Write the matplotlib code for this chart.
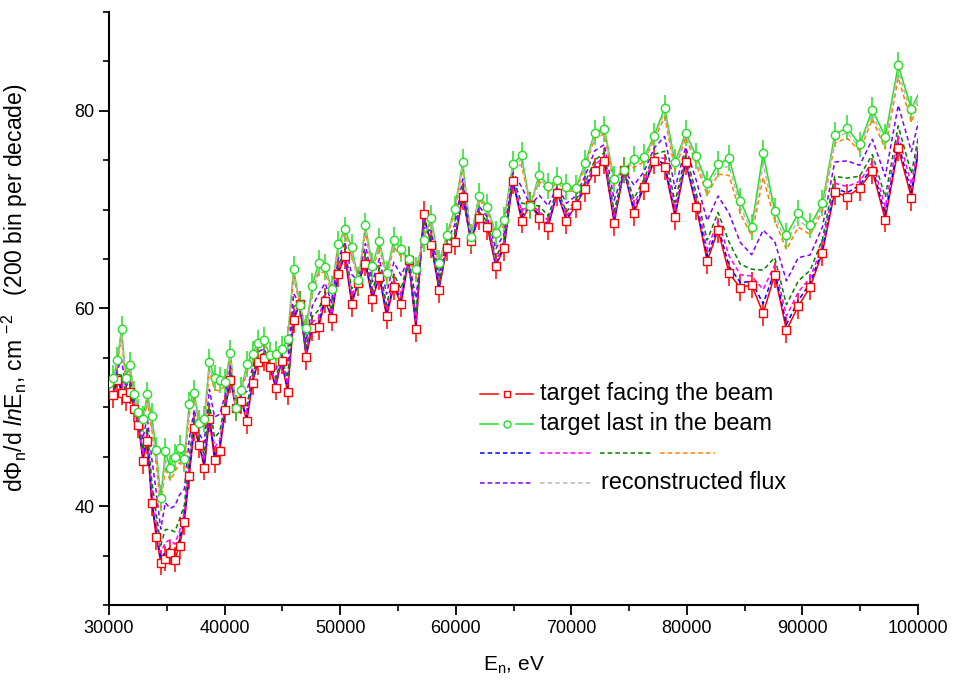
import numpy as np
import matplotlib
matplotlib.use("Agg")
import matplotlib.pyplot as plt
from matplotlib.ticker import MultipleLocator

plt.rcParams['font.family'] = ['Liberation Sans', 'DejaVu Sans']
plt.rcParams['mathtext.fontset'] = 'custom'
plt.rcParams['mathtext.rm'] = 'Liberation Sans'
plt.rcParams['mathtext.it'] = 'Liberation Sans:italic'

# 200 bins per decade, bin index k -> centre 10**((k+0.5)/200)
bin_index = np.arange(894, 1001)
energy = 10 ** ((bin_index + 0.5) / 200.0)

# target facing the beam (red squares)
flux_front = [51.3, 52.0, 51.2, 52.8, 51.5, 50.9, 51.6, 49.8, 48.2, 44.6,
              46.6, 40.3, 36.9, 34.3, 34.7, 35.3, 34.6, 36.0, 38.4, 43.05,
              47.9, 46.2, 43.9, 48.8, 44.7, 45.6, 49.7, 52.8, 49.9, 50.6,
              48.6, 52.5, 54.6, 55.0, 54.1, 52.0, 54.7, 51.55, 58.8, 60.5,
              55.1, 58.0, 58.1, 60.8, 59.0, 63.5, 65.3, 60.45, 62.6, 64.55,
              60.95, 63.15, 59.2, 62.2, 60.45, 64.9, 57.9, 69.6, 66.4, 61.9,
              66.1, 66.7, 71.3, 66.85, 69.2, 68.2, 64.3, 66.1, 72.9, 68.9,
              70.5, 69.2, 68.25, 71.7, 68.85, 70.5, 72.1, 73.95, 74.9, 68.65,
              74.0, 69.65, 72.3, 74.9, 74.3, 69.25, 74.8, 70.25, 64.8, 67.9,
              63.55, 62.1, 62.4, 59.5, 63.4, 57.8, 60.25, 62.2, 65.65, 71.8,
              71.3, 72.2, 73.9, 69.0, 76.2, 71.2, 80.0]

# target last in the beam (green circles)
flux_last = [52.0, 52.5, 53.0, 54.8, 57.95, 52.95, 54.3, 51.4, 49.5, 48.8,
             51.3, 49.1, 45.7, 40.8, 45.6, 43.9, 45.0, 45.9, 44.8, 50.3,
             51.5, 48.4, 48.8, 54.6, 53.0, 52.75, 52.6, 55.5, 49.9, 51.8,
             54.4, 55.4, 56.55, 56.8, 55.3, 55.4, 55.9, 56.9, 64.0, 60.4,
             58.0, 62.3, 64.6, 64.2, 62.0, 66.5, 68.0, 66.2, 62.9, 68.4,
             64.3, 66.8, 63.55, 66.97, 66.05, 65.0, 63.95, 66.97, 69.15, 64.6,
             67.4, 70.1, 74.8, 67.2, 71.4, 70.25, 67.6, 69.0, 74.6, 75.5,
             70.4, 73.55, 72.4, 73.0, 72.3, 72.2, 74.7, 77.8, 78.15, 73.1,
             74.05, 75.1, 75.3, 77.5, 80.27, 74.8, 77.75, 75.4, 72.65, 74.6,
             75.2, 70.9, 68.25, 75.7, 69.9, 67.4, 69.65, 68.4, 70.66, 77.6,
             78.3, 76.6, 80.1, 77.4, 84.6, 80.2, 83.0]

err_front = 1.3
err_last = 1.3

# intermediate / reconstructed curves: position between the two targets
dashed_colors = ['#0000ff', '#ff00ff', '#008000', '#ff8000', '#8000ff', '#b8b8b8']
dashed_weights = [0.06, 0.15, 0.27, 0.85, 0.52, 0.93]

front = np.array(flux_front)
last = np.array(flux_last)

fig = plt.figure(figsize=(9.54, 6.88), dpi=100)
ax = fig.add_axes([0.1143, 0.1206, 0.848, 0.862])

ax.errorbar(energy, front, yerr=err_front, fmt='-', color='#ff0000', lw=1.1,
            elinewidth=1.1, capsize=0, zorder=2)
ax.errorbar(energy, last, yerr=err_last, fmt='-', color='#22e022', lw=1.1,
            elinewidth=1.1, capsize=0, zorder=2)

for c, w in zip(dashed_colors, dashed_weights):
    ax.plot(energy, front + w * (last - front), color=c, lw=1.1,
            dashes=(3, 2), zorder=3)

ax.plot(energy, front, 's', mfc='white', mec='#ff0000', ms=5.5, mew=1, zorder=4)
ax.plot(energy, last, 'o', mfc='white', mec='#22e022', ms=6, mew=1, zorder=4)

ax.set_xlim(30000, 100000)
ax.set_ylim(30, 90)
ax.xaxis.set_major_locator(MultipleLocator(10000))
ax.xaxis.set_minor_locator(MultipleLocator(5000))
ax.yaxis.set_major_locator(MultipleLocator(20))
ax.yaxis.set_minor_locator(MultipleLocator(5))

for s in ['top', 'right']:
    ax.spines[s].set_visible(False)
for s in ['left', 'bottom']:
    ax.spines[s].set_linewidth(1.5)
ax.tick_params(which='major', direction='out', length=7, width=1.3, labelsize=13)
ax.tick_params(which='minor', direction='out', length=4, width=1.2)

ax.set_xlabel(r'E$_{\rm n}$, eV', fontsize=15, labelpad=13)
ax.set_ylabel(r'd$\Phi_{\rm n}$/d $\it{ln}$E$_{\rm n}$, cm $^{-2}$   (200 bin per decade)',
              fontsize=16.5)
ax.yaxis.set_label_coords(-0.098, 0.535)

# legend drawn by hand in axes coordinates
tr = ax.transAxes
row_y = [0.356, 0.306, 0.257, 0.206]
ax.plot([0.4586, 0.4808], [row_y[0]] * 2, color='#ff0000', lw=1.1, transform=tr)
ax.plot([0.5031, 0.5236], [row_y[0]] * 2, color='#ff0000', lw=1.1, transform=tr)
ax.plot([0.4916], [row_y[0]], 's', mfc='white', mec='#ff0000', ms=5, transform=tr)
ax.text(0.5328, row_y[0], 'target facing the beam', fontsize=16.8, va='center', transform=tr)

ax.plot([0.4586, 0.4808], [row_y[1]] * 2, color='#22e022', lw=1.1, transform=tr)
ax.plot([0.5031, 0.5236], [row_y[1]] * 2, color='#22e022', lw=1.1, transform=tr)
ax.plot([0.4916], [row_y[1]], 'o', mfc='white', mec='#22e022', ms=5, transform=tr)
ax.text(0.5328, row_y[1], 'target last in the beam', fontsize=16.8, va='center', transform=tr)

seg_x = [(0.4586, 0.5236), (0.5328, 0.5983), (0.6069, 0.6724), (0.6811, 0.7491)]
for (x0, x1), c in zip(seg_x, dashed_colors[:4]):
    ax.plot([x0, x1], [row_y[2]] * 2, color=c, lw=1.1, dashes=(3, 2), transform=tr)
for (x0, x1), c in zip(seg_x[:2], dashed_colors[4:]):
    ax.plot([x0, x1], [row_y[3]] * 2, color=c, lw=1.1, dashes=(3, 2), transform=tr)
ax.text(0.6084, row_y[3], 'reconstructed flux', fontsize=16.8, va='center', transform=tr)

fig.savefig('out.png', dpi=100)
